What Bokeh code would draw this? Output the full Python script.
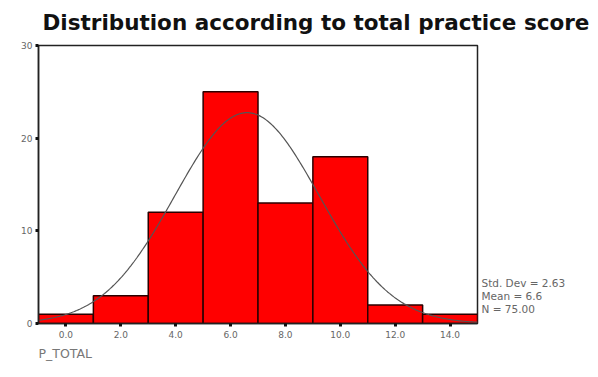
import numpy as np
from bokeh.plotting import figure
from bokeh.models import FixedTicker, CustomJSTickFormatter, Range1d, LinearAxis, Title
from bokeh.embed import file_html
from bokeh.resources import INLINE

# data
bin_centers = [0, 2, 4, 6, 8, 10, 12, 14]
counts = [1, 3, 12, 25, 13, 18, 2, 1]
bin_width = 2
std_dev = 2.63
mean = 6.6
n_total = 75
x_ticks = [0, 2, 4, 6, 8, 10, 12, 14]
y_ticks = [0, 10, 20, 30]
title_text = "Distribution according to total practice score"
x_label = "P_TOTAL"
stats_lines = ["Std. Dev = 2.63", "Mean = 6.6", "N = 75.00"]
stats_pos = [4.4, 3.0, 1.6]

p = figure(width=598, height=377, output_backend="svg", toolbar_location=None,
           x_range=Range1d(-1, 15), y_range=Range1d(0, 30),
           min_border_left=38, min_border_right=121, min_border_top=45, min_border_bottom=54)
p.extra_y_ranges = {"stats": Range1d(0, 30)}
p.background_fill_color = "white"
p.border_fill_color = "white"
p.outline_line_color = "#222222"
p.outline_line_width = 1.5
p.xgrid.visible = False
p.ygrid.visible = False

p.title.text = title_text
p.title.align = "left"
p.title.vertical_align = "top"
p.title.offset = 4
p.title.standoff = 18
p.title.text_font = "DejaVu Sans"
p.title.text_font_style = "bold"
p.title.text_font_size = "21.5px"
p.title.text_color = "#111111"

p.vbar(x=bin_centers, top=counts, width=bin_width, bottom=0,
       fill_color="#FF0000", line_color="#2a0000", line_width=1.5)

xs = np.linspace(-1, 15, 300)
ys = n_total * bin_width / (std_dev * np.sqrt(2 * np.pi)) * np.exp(-0.5 * ((xs - mean) / std_dev) ** 2)
p.line(xs, ys, line_color="#555555", line_width=1.2)

for ax in (p.xaxis[0], p.yaxis[0]):
    ax.axis_line_color = "#222222"
    ax.axis_line_width = 1.5
    ax.major_tick_in = 0
    ax.major_tick_out = 3
    ax.major_tick_line_width = 3
    ax.major_tick_line_color = "#111111"
    ax.minor_tick_line_color = None
    ax.major_label_text_font = "DejaVu Sans"
    ax.major_label_text_font_size = "9px"
    ax.major_label_text_color = "#666666"

p.xaxis.ticker = FixedTicker(ticks=x_ticks)
p.xaxis.formatter = CustomJSTickFormatter(code="return tick.toFixed(1);")
p.xaxis.major_label_standoff = 4
p.yaxis.ticker = FixedTicker(ticks=y_ticks)
p.yaxis.major_label_standoff = 3

stats_axis = LinearAxis(y_range_name="stats", ticker=FixedTicker(ticks=stats_pos),
                        major_label_overrides={v: s for v, s in zip(stats_pos, stats_lines)})
stats_axis.axis_line_color = None
stats_axis.major_tick_line_color = None
stats_axis.major_tick_out = 0
stats_axis.major_tick_in = 0
stats_axis.minor_tick_line_color = None
stats_axis.major_label_standoff = 4
stats_axis.major_label_text_font = "DejaVu Sans"
stats_axis.major_label_text_font_size = "10.5px"
stats_axis.major_label_text_color = "#666666"
p.add_layout(stats_axis, "right")

xl = Title(text=x_label, align="left", offset=0, standoff=6,
           text_font="DejaVu Sans", text_font_size="12.5px", text_font_style="normal",
           text_color="#777777")
p.add_layout(xl, "below")

open("out.html", "w").write(file_html(p, INLINE))
